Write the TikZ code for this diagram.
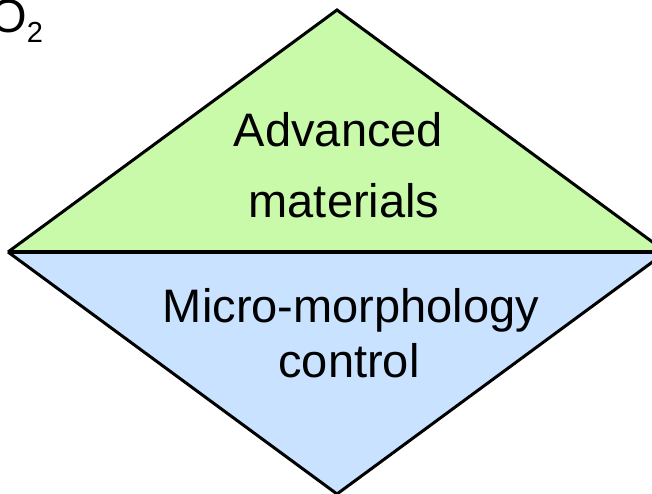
\documentclass[tikz,border=0pt]{standalone}
\usepackage{fontspec}
\setmainfont{Liberation Sans}
\definecolor{topgreen}{RGB}{200,250,170}
\definecolor{lowblue}{RGB}{200,226,255}
\begin{document}
\begin{tikzpicture}[x=1pt,y=-1pt,
  label/.style={inner sep=0pt,anchor=base,font=\fontsize{47}{56}\selectfont},
  edge/.style={line width=3pt,line join=miter},
  divider/.style={line width=4pt}]
\useasboundingbox (0,0) rectangle (652,494);
% vertices of the diamond
\coordinate (T) at (337,10);
\coordinate (L) at (8,252);
\coordinate (R) at (666,252);
\coordinate (B) at (337,494);
% two halves
\fill[topgreen] (L) -- (T) -- (R) -- cycle;
\fill[lowblue] (L) -- (B) -- (R) -- cycle;
\draw[edge] (L) -- (T) -- (R);
\draw[edge] (L) -- (B) -- (R);
\draw[divider] (L) -- (R);
% labels
\node[label] (adv) at (338.5,147) {Advanced};
\node[label] (mat) at (344,218) {materials};
\node[label] (micro) at (351,322) {Micro-morphology};
\node[label] (ctrl) at (349,377) {control};
\node[inner sep=0pt,anchor=base west,font=\fontsize{47}{56}\selectfont] (ox) at (-10,33) {O\raisebox{-10pt}{\fontsize{29}{34}\selectfont 2}};
\end{tikzpicture}
\end{document}
